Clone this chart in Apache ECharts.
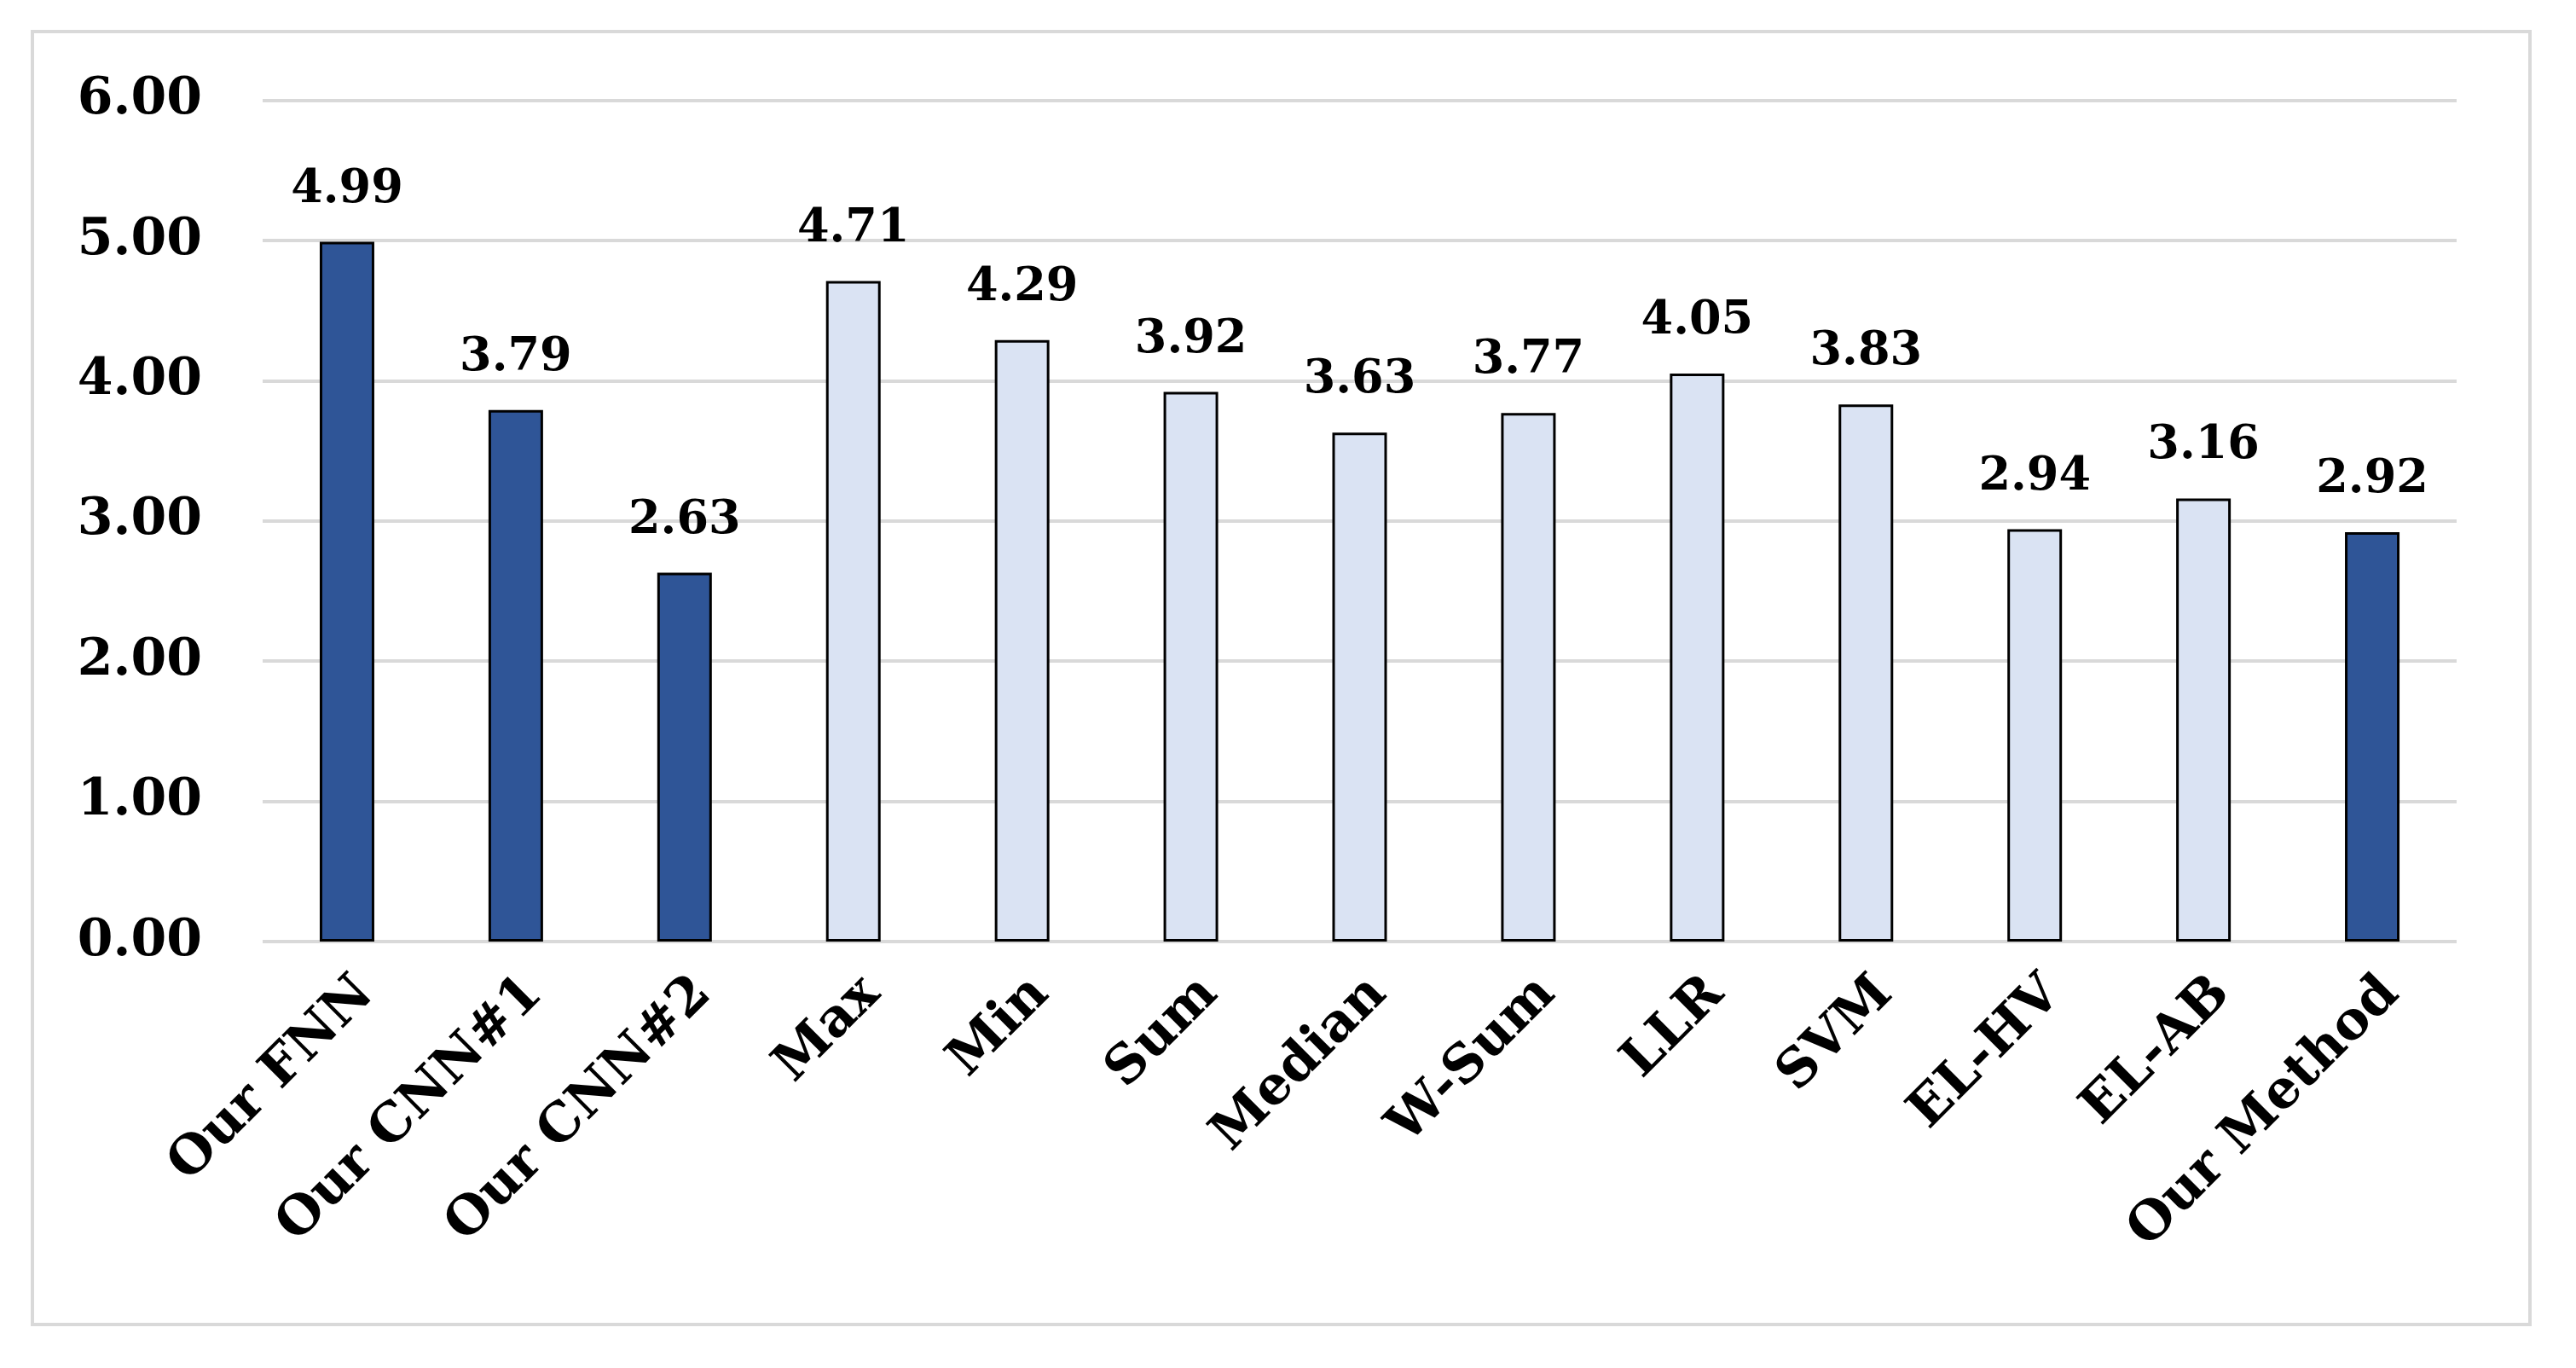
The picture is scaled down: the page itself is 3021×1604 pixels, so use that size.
<!DOCTYPE html>
<html>
<head>
<meta charset="utf-8">
<script src="https://cdn.jsdelivr.net/npm/echarts@6/dist/echarts.min.js"></script>
<style>
html,body{margin:0;padding:0;background:#fff;}
#chart{width:3021px;height:1604px;}
</style>
</head>
<body>
<div id="chart"></div>
<script>
const categories = ["Our FNN","Our CNN#1","Our CNN#2","Max","Min","Sum","Median","W-Sum","LLR","SVM","EL-HV","EL-AB","Our Method"];
const values = [4.99, 3.79, 2.63, 4.71, 4.29, 3.92, 3.63, 3.77, 4.05, 3.83, 2.94, 3.16, 2.92];
const highlighted = [true, true, true, false, false, false, false, false, false, false, false, false, true];
const yTicks = [0, 1, 2, 3, 4, 5, 6];

const DARK = '#2F5597';
const LIGHT = '#DAE3F3';
const FONT = '"DejaVu Serif", serif';

const chart = echarts.init(document.getElementById('chart'), null, {renderer: 'canvas'});
chart.setOption({
  backgroundColor: '#ffffff',
  animation: false,
  graphic: [{
    type: 'rect',
    shape: {x: 38, y: 37, width: 2929, height: 1516},
    style: {fill: 'none', stroke: '#d9d9d9', lineWidth: 4},
    silent: true
  }],
  grid: {left: 308, right: 140, top: 117.5, bottom: 500, containLabel: false},
  xAxis: {
    type: 'category',
    data: categories,
    axisLine: {show: false},
    axisTick: {show: false},
    axisLabel: {
      rotate: 45,
      interval: 0,
      margin: 30,
      verticalAlign: 'top',
      fontFamily: FONT,
      fontWeight: 'bold',
      fontSize: 62,
      color: '#000'
    }
  },
  yAxis: {
    type: 'value',
    min: yTicks[0],
    max: yTicks[yTicks.length - 1],
    interval: 1,
    axisLine: {show: false},
    axisTick: {show: false},
    splitLine: {lineStyle: {color: '#d9d9d9', width: 4}},
    axisLabel: {
      margin: 71,
      fontFamily: FONT,
      fontWeight: 'bold',
      fontSize: 60,
      color: '#000',
      formatter: v => v.toFixed(2)
    }
  },
  series: [{
    type: 'bar',
    barWidth: 64,
    data: values.map((v, i) => ({
      value: v,
      itemStyle: {color: highlighted[i] ? DARK : LIGHT}
    })),
    itemStyle: {borderColor: '#000', borderWidth: 3},
    label: {
      show: true,
      position: 'top',
      distance: 34,
      fontFamily: FONT,
      fontWeight: 'bold',
      fontSize: 54,
      color: '#000',
      formatter: p => p.value.toFixed(2)
    }
  }]
});
</script>
</body>
</html>
